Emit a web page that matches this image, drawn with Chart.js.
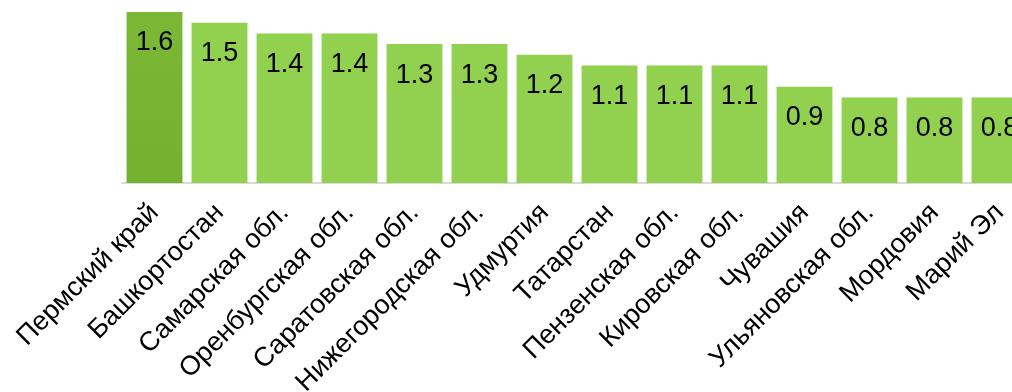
<!DOCTYPE html>
<html><head><meta charset="utf-8">
<script src="https://cdn.jsdelivr.net/npm/chart.js@4"></script>
<style>
html,body{margin:0;padding:0;background:#fff;overflow:hidden;width:1012px;height:392px;}
#wrap{position:absolute;left:0;top:0;width:1040px;height:392px;}
</style></head><body>
<div id="wrap"><canvas id="c" width="1040" height="392"></canvas></div>
<script>
const categories = ['Пермский край','Башкортостан','Самарская обл.','Оренбургская обл.','Саратовская обл.','Нижегородская обл.','Удмуртия','Татарстан','Пензенская обл.','Кировская обл.','Чувашия','Ульяновская обл.','Мордовия','Марий Эл'];
const values = [1.6,1.5,1.4,1.4,1.3,1.3,1.2,1.1,1.1,1.1,0.9,0.8,0.8,0.8];
const valueLabels = ['1.6','1.5','1.4','1.4','1.3','1.3','1.2','1.1','1.1','1.1','0.9','0.8','0.8','0.8'];
const highlightIndex = 0;

const FONT = "'Liberation Sans', Arial, sans-serif";

const valuePlugin = {
  id: 'valueLabels',
  afterDatasetsDraw(chart) {
    const ctx = chart.ctx;
    const meta = chart.getDatasetMeta(0);
    ctx.save();
    ctx.font = '27px ' + FONT;
    ctx.fillStyle = '#000';
    ctx.textAlign = 'center';
    ctx.textBaseline = 'middle';
    meta.data.forEach((bar, i) => {
      ctx.fillText(valueLabels[i], bar.x, bar.y + 31);
    });
    ctx.restore();
  }
};

new Chart(document.getElementById('c'), {
  type: 'bar',
  data: {
    labels: categories,
    datasets: [{
      data: values,
      backgroundColor: (c) => {
        if (c.dataIndex !== highlightIndex) return '#92D050';
        const area = c.chart.chartArea;
        if (!area) return '#77B531';
        const g = c.chart.ctx.createLinearGradient(0, area.top, 0, area.bottom);
        g.addColorStop(0, '#7BB835');
        g.addColorStop(1, '#73B12E');
        return g;
      },
      borderWidth: 0,
      barPercentage: 0.86,
      categoryPercentage: 1.0
    }]
  },
  options: {
    responsive: false,
    animation: false,
    layout: { padding: { left: 122, right: 8, top: 12, bottom: 0 } },
    plugins: { legend: { display: false }, tooltip: { enabled: false } },
    scales: {
      y: { display: false, min: 0, max: 1.6 },
      x: {
        grid: { display: false, drawTicks: false },
        border: { display: true, color: '#D9D9D9', width: 2 },
        ticks: {
          minRotation: 45, maxRotation: 45, autoSkip: false,
          color: '#000', padding: 14,
          font: { family: FONT, size: 27 }
        },
        afterFit(scale) { scale.height = 209; }
      }
    }
  },
  plugins: [valuePlugin]
});
</script>
</body></html>
